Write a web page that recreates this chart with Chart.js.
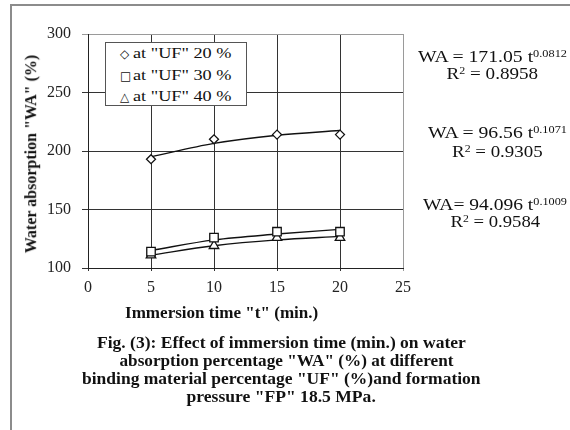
<!DOCTYPE html>
<html>
<head>
<meta charset="utf-8">
<script src="https://cdn.jsdelivr.net/npm/chart.js@4/dist/chart.umd.min.js"></script>
<style>
  html, body { margin: 0; padding: 0; background: #fff; }
  #wrap { position: relative; width: 570px; height: 430px; overflow: hidden; font-family: "Liberation Serif", "Times New Roman", serif; color: #111; }
  #frame { position: absolute; left: 10px; top: 4px; width: 580px; height: 440px; border-top: 2px solid #8c8c8c; border-left: 2px solid #8c8c8c; }
  canvas { position: absolute; left: 0; top: 0; }
  .txt { position: absolute; white-space: nowrap; line-height: 1; }
  .b { font-weight: bold; }
  sup { font-size: 10px; vertical-align: 5px; line-height: 0; }
  #legend { position: absolute; left: 105px; top: 42px; width: 140px; height: 62px; border: 1px solid #555; background: #fff; z-index: 2; }
</style>
</head>
<body>
<div id="wrap">
  <div id="frame"></div>
  <canvas id="chart" width="570" height="430"></canvas>
  <div id="legend"></div>
  <div id="texts"></div>
</div>
<script>
// values
var times = [5, 10, 15, 20];
var wa20 = [193, 210, 214, 214];
var wa30 = [114, 126, 131, 131];
var wa40 = [111, 119, 126, 126];
// power trend lines
var fit20 = [195, 206.5, 213.5, 217.5];
var fit30 = [115, 124, 129, 133];
var fit40 = [111, 119, 124, 127];
var seriesNames = ['at "UF" 20 %', 'at "UF" 30 %', 'at "UF" 40 %'];
var xTicks = [0, 5, 10, 15, 20, 25];
var yTicks = [100, 150, 200, 250, 300];
var equations = [
  ['WA = 171.05 t<sup>0.0812</sup>', 'R<sup>2</sup> = 0.8958'],
  ['WA = 96.56 t<sup>0.1071</sup>', 'R<sup>2</sup> = 0.9305'],
  ['WA= 94.096 t<sup>0.1009</sup>', 'R<sup>2</sup> = 0.9584']
];
var xTitle = 'Immersion time "t" (min.)';
var yTitle = 'Water absorption "WA" (%)';
var caption = [
  'Fig. (3): Effect of immersion time (min.) on water',
  'absorption percentage "WA" (%) at different',
  'binding material percentage "UF" (%)and formation',
  'pressure "FP" 18.5 MPa.'
];

function pts(ys) {
  return times.map(function (t, i) { return { x: t, y: ys[i] }; });
}

function markerSet(ys, style, r) {
  return {
    data: pts(ys), showLine: false, pointStyle: style, pointRadius: r,
    pointBackgroundColor: '#fff', pointBorderColor: '#111', pointBorderWidth: 1.3, order: 0
  };
}
function trendSet(ys) {
  return {
    data: pts(ys), showLine: true, pointRadius: 0, borderColor: '#111', borderWidth: 1.4,
    cubicInterpolationMode: 'monotone', fill: false, order: 1
  };
}

var gridDark = '#333', gridEdge = '#9a9a9a';

new Chart(document.getElementById('chart'), {
  type: 'scatter',
  data: {
    datasets: [
      trendSet(fit20), trendSet(fit30), trendSet(fit40),
      markerSet(wa20, 'rectRot', 4.5),
      markerSet(wa30, 'rect', 6),
      markerSet(wa40, 'triangle', 5.5)
    ]
  },
  options: {
    responsive: false,
    animation: false,
    layout: { padding: { left: 38, top: 34, right: 167, bottom: 132 } },
    plugins: { legend: { display: false }, tooltip: { enabled: false } },
    scales: {
      x: {
        type: 'linear', min: 0, max: 25,
        afterFit: function (s) { s.height = 30; },
        afterBuildTicks: function (s) { s.ticks = xTicks.map(function (v) { return { value: v }; }); },
        grid: {
          color: function (c) { return c.tick && c.tick.value === 25 ? gridEdge : gridDark; },
          lineWidth: 1, tickLength: 3
        },
        border: { color: '#222', width: 1 },
        ticks: { color: '#222', padding: 7, font: { family: 'Liberation Serif', size: 16 } }
      },
      y: {
        min: 100, max: 300,
        afterFit: function (s) { s.width = 50; },
        afterBuildTicks: function (s) { s.ticks = yTicks.map(function (v) { return { value: v }; }); },
        grid: {
          color: function (c) { return c.tick && c.tick.value === 300 ? gridEdge : gridDark; },
          lineWidth: 1, tickLength: 6
        },
        border: { color: '#222', width: 1 },
        ticks: { color: '#222', padding: 11, font: { family: 'Liberation Serif', size: 16 } }
      }
    }
  }
});

// legend box, glyph markers like the original
var legend = document.getElementById('legend');
var glyphs = ['\u25C7', '\u25A1', '\u25B3'];
var rowY = [11, 33, 54];
seriesNames.forEach(function (name, i) {
  var g = document.createElement('div');
  g.className = 'txt';
  g.style.font = '12px "DejaVu Sans"';
  g.style.left = '14px';
  g.style.top = (rowY[i] - 7) + 'px';
  g.textContent = glyphs[i];
  legend.appendChild(g);
  var t = document.createElement('div');
  t.className = 'txt';
  t.style.fontSize = '14px';
  t.style.left = '27px';
  t.style.top = (rowY[i] - 7) + 'px';
  t.style.transformOrigin = '0 50%';
  t.textContent = name;
  legend.appendChild(t);
  t.style.transform = 'scaleX(' + (99 / t.offsetWidth) + ')';
});

// free text, centred on a point and squeezed to the width seen in the figure
var box = document.getElementById('texts');
function place(html, cx, cy, w, size, bold, rot) {
  var d = document.createElement('div');
  d.className = 'txt' + (bold ? ' b' : '');
  d.style.fontSize = size + 'px';
  d.innerHTML = html;
  box.appendChild(d);
  var k = w / d.offsetWidth;
  d.style.left = (cx - d.offsetWidth / 2) + 'px';
  d.style.top = (cy - d.offsetHeight / 2) + 'px';
  d.style.transform = (rot ? 'rotate(-90deg) ' : '') + 'scaleX(' + k + ')';
}

place(equations[0][0], 492.5, 57, 149, 16, false);
place(equations[0][1], 492, 74, 92, 16, false);
place(equations[1][0], 497.5, 133, 139, 16, false);
place(equations[1][1], 497.5, 152, 91, 16, false);
place(equations[2][0], 495, 205, 144, 16, false);
place(equations[2][1], 495, 222, 90, 16, false);

place(xTitle, 221.5, 313, 193, 16, true);
place(yTitle, 31, 154, 198, 16, true, true);

place(caption[0], 281, 343, 369, 16, true);
place(caption[1], 286, 361, 334, 16, true);
place(caption[2], 281.5, 379, 399, 16, true);
place(caption[3], 281, 397, 189, 16, true);
</script>
</body>
</html>
